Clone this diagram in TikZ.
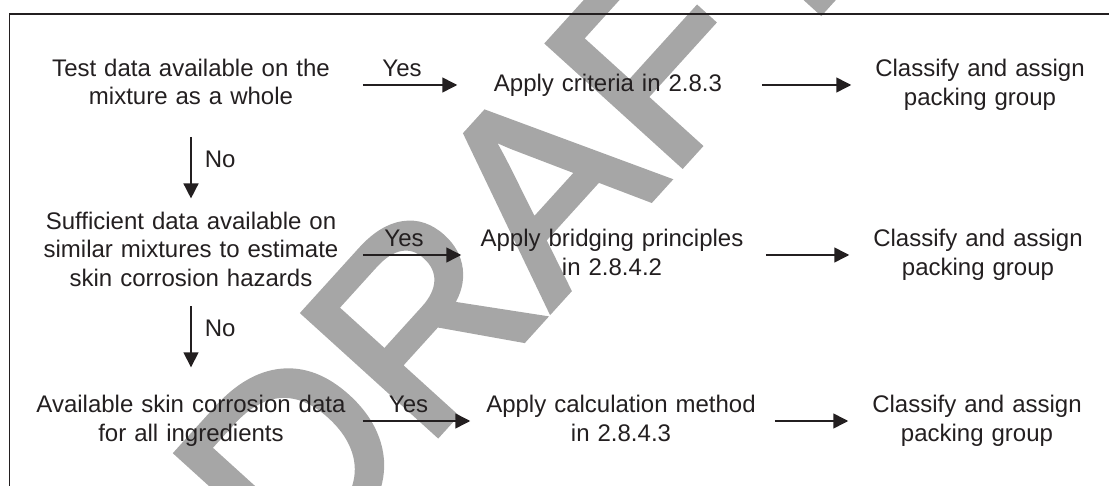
\documentclass[tikz,border=0pt]{standalone}
\usepackage{fontspec}
\setmainfont{Liberation Sans}
\newfontfamily\wmfont{Liberation Sans}[FakeBold=2.5]
\usetikzlibrary{arrows.meta,positioning}
\definecolor{ink}{RGB}{35,31,32}
\definecolor{wm}{RGB}{166,166,166}

\begin{document}
\begin{tikzpicture}[x=1pt, y=-1pt, >={Triangle[length=15pt,width=15pt]}, line width=1.5pt, ink]
  \tikzstyle{txt} = [align=center, inner sep=0pt, text=ink, font=\fontsize{24}{28.5}\selectfont]
  \tikzstyle{ask} = [txt, text width=310pt]
  \tikzstyle{act} = [txt, text width=300pt]
  \tikzstyle{res} = [txt, text width=256pt]
  \tikzstyle{yes} = [txt, midway, above=8pt]
  \tikzstyle{no} = [txt, pos=0.37, right=13pt]
  \tikzstyle{wmark} = [inner sep=0pt, text=wm, font=\wmfont\fontsize{262}{262}\selectfont, rotate=47.8]
  \useasboundingbox (0,0) rectangle (1109,486);
  \node[wmark] (draft) at (523,206) {DRAFT};
  \draw (1109,14) -- (9.3,14) -- (9.3,486);
  \node[ask] (q1) at (191,82) {Test data available on the\\mixture as a whole};
  \node[ask] (q2) at (191,249) {Sufficient data available on\\similar mixtures to estimate\\skin corrosion hazards};
  \node[ask] (q3) at (191,421) {Available skin corrosion data\\for all ingredients};
  \node[act] (a1) at (608,85.7) {Apply criteria in 2.8.3};
  \node[act] (a2) at (612,252.5) {Apply bridging principles\\in 2.8.4.2};
  \node[act] (a3) at (621,418.5) {Apply calculation method\\in 2.8.4.3};
  \node[res] (c1) at (980,85) {Classify and assign\\packing group};
  \node[res] (c2) at (978,255) {Classify and assign\\packing group};
  \node[res] (c3) at (977,421) {Classify and assign\\packing group};
  \draw[->, shorten <=16pt] (q1.east |- c1) -- (a1.west |- c1) node[yes] {Yes};
  \draw[->, shorten <=16pt] (q2.east |- c2) -- (a2.west |- c2) node[yes] {Yes};
  \draw[->, shorten <=16pt] (q3.east |- c3) -- (a3.west |- c3) node[yes] {Yes};
  \draw[->, shorten <=3pt] (a1.east |- c1) -- (c1.west);
  \draw[->, shorten <=3pt] (a2.east |- c2) -- (c2.west);
  \draw[->, shorten <=3pt] (a3.east |- c3) -- (c3.west);
  \draw[->] ([yshift=-31pt]q1.south) -- ([yshift=12.5pt]q2.north) node[no] {No};
  \draw[->] ([yshift=-19pt]q2.south) -- ([yshift=27.5pt]q3.north) node[no] {No};
\end{tikzpicture}
\end{document}
